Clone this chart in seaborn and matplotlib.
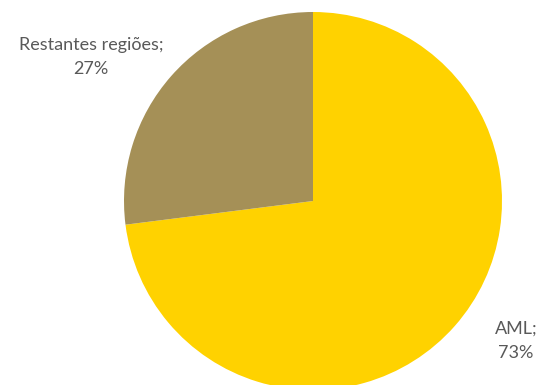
import matplotlib
matplotlib.use("Agg")
import matplotlib.pyplot as plt
import seaborn as sns

categories = ["AML", "Restantes regiões"]
shares = [73, 27]
colors = ["#FFD200", "#A59057"]

sns.set_theme(style="white")
plt.rcParams["font.family"] = ["Lato", "DejaVu Sans"]

W, H = 541, 385
fig = plt.figure(figsize=(W / 100, H / 100), dpi=100)
fig.patch.set_facecolor("white")

# pie centred at (313, 201) px from top-left, radius 189 px
cx, cy, r = 313, 201, 189
ax = fig.add_axes([(cx - r) / W, (H - cy - r) / H, 2 * r / W, 2 * r / H])
ax.pie(shares, colors=colors, startangle=90, counterclock=False,
       radius=1, wedgeprops=dict(linewidth=0))
ax.set_xlim(-1, 1)
ax.set_ylim(-1, 1)
ax.set_aspect("equal")
ax.axis("off")

text_color = "#595959"
label_pos = {"AML": (516, 341), "Restantes regiões": (91, 57)}
for name, val in zip(categories, shares):
    x, y = label_pos[name]
    fig.text(x / W, 1 - y / H, f"{name};\n{val}%", ha="center", va="center",
             fontsize=13, color=text_color, linespacing=1.65)

fig.savefig("out.png", dpi=100, facecolor="white")
